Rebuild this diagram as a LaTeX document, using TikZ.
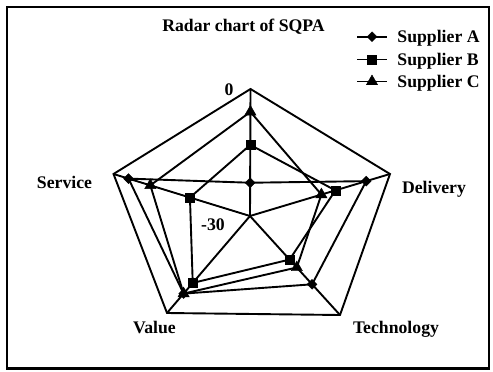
\documentclass[tikz,border=0pt]{standalone}
\usepackage{fontspec}
\setmainfont{Liberation Serif}
\usetikzlibrary{positioning}
\usetikzlibrary{shapes,arrows}
\usetikzlibrary{calc}

\begin{document}
\begin{tikzpicture}[x=1pt, y=-1pt, line width=1.9pt, line join=miter,
    every node/.style={font=\bfseries\fontsize{17.7}{20}\selectfont, inner sep=0pt},
    mdiamond/.style={draw, fill, line width=0.4pt, shape=diamond, minimum size=10pt},
    msquare/.style={draw, fill, line width=0.4pt, shape=rectangle, minimum size=9pt},
    mtriangle/.style={draw, fill, line width=0.4pt, shape=regular polygon, regular polygon sides=3, minimum size=13pt}]
    \useasboundingbox (0,0) rectangle (493,372);
    \draw [line width=2.2pt] (7,7) rectangle (489,368.5);

    % axes
    \coordinate (o) at (250,216);
    \coordinate (top) at (250.5,89);
    \coordinate (del) at (390,174);
    \coordinate (tec) at (340,315);
    \coordinate (val) at (167,313);
    \coordinate (ser) at (113.5,174);

    \draw (o) -- (top);
    \draw (o) -- (del);
    \draw (o) -- (tec);
    \draw (o) -- (val);
    \draw (o) -- (ser);
    \draw (top) -- (del) -- (tec) -- (val) -- (ser) -- cycle;

    % supplier A
    \coordinate (a1) at ($(o)!0.262!(top)$);
    \coordinate (a2) at ($(o)!0.83!(del)$);
    \coordinate (a3) at ($(o)!0.69!(tec)$);
    \coordinate (a4) at ($(o)!0.80!(val)$);
    \coordinate (a5) at ($(o)!0.89!(ser)$);
    % supplier B
    \coordinate (b1) at ($(o)!0.56!(top)$);
    \coordinate (b2) at ($(o)!0.61!(del)$);
    \coordinate (b3) at ($(o)!0.44!(tec)$);
    \coordinate (b4) at ($(o)!0.69!(val)$);
    \coordinate (b5) at ($(o)!0.44!(ser)$);
    % supplier C
    \coordinate (c1) at ($(o)!0.82!(top)$);
    \coordinate (c2) at ($(o)!0.51!(del)$);
    \coordinate (c3) at ($(o)!0.52!(tec)$);
    \coordinate (c4) at ($(o)!0.80!(val)$);
    \coordinate (c5) at ($(o)!0.73!(ser)$);

    \draw (a1) -- (a2) -- (a3) -- (a4) -- (a5) -- cycle;
    \draw (b1) -- (b2) -- (b3) -- (b4) -- (b5) -- cycle;
    \draw (c1) -- (c2) -- (c3) -- (c4) -- (c5) -- cycle;

    \node [mdiamond] (ma1) at (a1) {};
    \node [mdiamond] (ma2) at (a2) {};
    \node [mdiamond] (ma3) at (a3) {};
    \node [mdiamond] (ma4) at (a4) {};
    \node [mdiamond] (ma5) at (a5) {};
    \node [msquare] (mb1) at (b1) {};
    \node [msquare] (mb2) at (b2) {};
    \node [msquare] (mb3) at (b3) {};
    \node [msquare] (mb4) at (b4) {};
    \node [msquare] (mb5) at (b5) {};
    \node [mtriangle] (mc1) at (c1) {};
    \node [mtriangle] (mc2) at (c2) {};
    \node [mtriangle] (mc3) at (c3) {};
    \node [mtriangle] (mc4) at (c4) {};
    \node [mtriangle] (mc5) at (c5) {};

    % labels
    \node [anchor=base] (title) at (243.5,31) {Radar chart of SQPA};
    \node [anchor=base] (zero) at (229,95) {0};
    \node [anchor=base] (minus) at (213,230) {-30};
    \node [anchor=base] (service) at (64.5,188.5) {Service};
    \node [anchor=base] (delivery) at (434,193) {Delivery};
    \node [anchor=base] (technology) at (396,333.5) {Technology};
    \node [anchor=base] (value) at (154.5,333.5) {Value};

    % legend
    \coordinate (la) at (357,36.7);
    \coordinate (lae) at (387,36.7);
    \coordinate (lb) at (357,59.5);
    \coordinate (lbe) at (387,59.5);
    \coordinate (lc) at (357,81.5);
    \coordinate (lce) at (387,81.5);
    \draw (la) -- (lae);
    \draw (lb) -- (lbe);
    \draw (lc) -- (lce);
    \node [mdiamond] (lma) at ($(la)!0.5!(lae)$) {};
    \node [msquare] (lmb) at ($(lb)!0.5!(lbe)$) {};
    \node [mtriangle] (lmc) at ($(lc)!0.5!(lce)$) {};
    \node [anchor=base west] (sa) at (396.5,42.7) {Supplier A};
    \node [anchor=base west] (sb) at (396.5,65.5) {Supplier B};
    \node [anchor=base west] (sc) at (396.5,87.5) {Supplier C};
\end{tikzpicture}
\end{document}
